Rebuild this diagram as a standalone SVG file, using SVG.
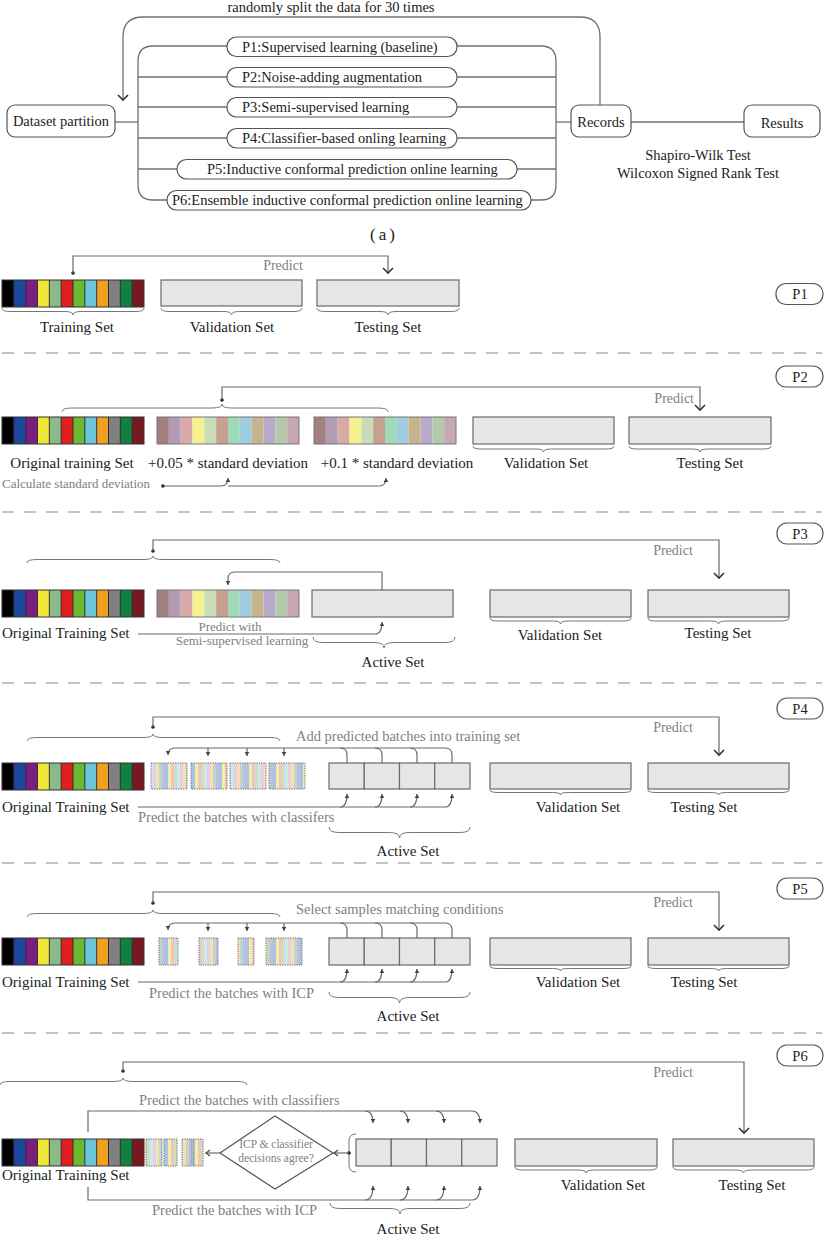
<svg xmlns="http://www.w3.org/2000/svg" xmlns:xlink="http://www.w3.org/1999/xlink" width="831" height="1239" viewBox="0 0 831 1239">
<style>
text{font-family:"Liberation Serif","Times New Roman",serif;fill:#222}
.m{font-size:15px}
.s{font-size:14.5px}
.g{fill:#808080;font-size:14.5px}
.gp{fill:#808080;font-size:14px}
.gs{fill:#808080;font-size:13px}
.c{text-anchor:middle}
.e{text-anchor:end}
.ln{fill:none;stroke:#707070;stroke-width:1.3}
.cn{fill:none;stroke:#6a6a6a;stroke-width:1.2}
.br{fill:none;stroke:#777;stroke-width:1}
.box{fill:#e6e6e6;stroke:#6a6a6a;stroke-width:1.2}
.pill{fill:#fff;stroke:#555;stroke-width:1.2}
.dash{stroke:#8a8a8a;stroke-width:1.2;stroke-dasharray:12 10}
.bat{fill:url(#bp);stroke:#666;stroke-width:1;stroke-dasharray:1.2 1.2}
.dot{fill:#222}
</style>
<defs>
<marker id="vee" viewBox="-7 -7 14 14" markerWidth="14" markerHeight="14" refX="0" refY="0" orient="auto" markerUnits="userSpaceOnUse" overflow="visible"><path d="M-5,-5 L0,0 L-5,5" fill="none" stroke="#333" stroke-width="1.6"/></marker>
<marker id="sm" viewBox="-5 -5 10 10" markerWidth="10" markerHeight="10" refX="0" refY="0" orient="auto" markerUnits="userSpaceOnUse" overflow="visible"><path d="M-4,-2.3 L0,0 L-4,2.3 z" fill="#444"/></marker>
<marker id="lt" viewBox="-5 -5 10 10" markerWidth="10" markerHeight="10" refX="0" refY="0" orient="auto" markerUnits="userSpaceOnUse" overflow="visible"><path d="M-4,-3 L0,0 L-4,3" fill="none" stroke="#444" stroke-width="1.1"/></marker>
<pattern id="bp" width="27" height="10" patternUnits="userSpaceOnUse">
<rect x="0" y="0" width="3" height="10" fill="#c4bce0"/><rect x="3" y="0" width="3" height="10" fill="#a9c2e8"/><rect x="6" y="0" width="3" height="10" fill="#f2efa2"/><rect x="9" y="0" width="3" height="10" fill="#f3c3c3"/><rect x="12" y="0" width="3" height="10" fill="#c9e3c0"/><rect x="15" y="0" width="3" height="10" fill="#cde8f2"/><rect x="18" y="0" width="3" height="10" fill="#e6cfe0"/><rect x="21" y="0" width="3" height="10" fill="#f7dfb0"/><rect x="24" y="0" width="3" height="10" fill="#b9d9c9"/>
</pattern>
<g id="orig">
<rect x="0" y="0" width="11.83" height="27" fill="#000"/>
<rect x="11.83" y="0" width="11.83" height="27" fill="#1a48a0"/>
<rect x="23.67" y="0" width="11.83" height="27" fill="#7a1e80"/>
<rect x="35.5" y="0" width="11.83" height="27" fill="#f0e838"/>
<rect x="47.33" y="0" width="11.83" height="27" fill="#8cb88a"/>
<rect x="59.17" y="0" width="11.83" height="27" fill="#e02020"/>
<rect x="71" y="0" width="11.83" height="27" fill="#6cb830"/>
<rect x="82.83" y="0" width="11.83" height="27" fill="#6ac6d8"/>
<rect x="94.67" y="0" width="11.83" height="27" fill="#f0a020"/>
<rect x="106.5" y="0" width="11.83" height="27" fill="#808080"/>
<rect x="118.33" y="0" width="11.83" height="27" fill="#128040"/>
<rect x="130.17" y="0" width="11.83" height="27" fill="#781820"/>
<path d="M11.83,0V27M23.67,0V27M35.5,0V27M47.33,0V27M59.17,0V27M71,0V27M82.83,0V27M94.67,0V27M106.5,0V27M118.33,0V27M130.17,0V27" stroke="#222" stroke-width="0.9"/>
<rect x="0" y="0" width="142" height="27" fill="none" stroke="#333" stroke-width="1"/>
</g>
<g id="pale">
<rect x="0" y="0" width="11.83" height="27" fill="#a08080"/>
<rect x="11.83" y="0" width="11.83" height="27" fill="#b39ab5"/>
<rect x="23.67" y="0" width="11.83" height="27" fill="#d8aaa8"/>
<rect x="35.5" y="0" width="11.83" height="27" fill="#f5f090"/>
<rect x="47.33" y="0" width="11.83" height="27" fill="#c8dcb8"/>
<rect x="59.17" y="0" width="11.83" height="27" fill="#c8a090"/>
<rect x="71" y="0" width="11.83" height="27" fill="#a0d8b8"/>
<rect x="82.83" y="0" width="11.83" height="27" fill="#a0cce0"/>
<rect x="94.67" y="0" width="11.83" height="27" fill="#c8b48c"/>
<rect x="106.5" y="0" width="11.83" height="27" fill="#b8aac8"/>
<rect x="118.33" y="0" width="11.83" height="27" fill="#b4c8ac"/>
<rect x="130.17" y="0" width="11.83" height="27" fill="#c8a8b0"/>
<rect x="0" y="0" width="142" height="27" fill="none" stroke="#777" stroke-width="1"/>
</g>
</defs>
<rect x="0" y="0" width="831" height="1239" fill="#fff"/>

<!-- ===== (a) overview ===== -->
<g id="connectors-a">
<path class="ln" d="M600,105 V37 Q600,17 580,17 H143 Q123,17 123,37 V100" marker-end="url(#vee)"/>
<path class="ln" d="M115,122 H138"/>
<path class="ln" d="M227,46 H153 Q138,46 138,61 V185 Q138,200 153,200 H167"/>
<path class="ln" d="M138,77 H227 M138,107 H227 M138,138 H227 M138,169 H177"/>
<path class="ln" d="M457,46 H541 Q556,46 556,61 V185 Q556,200 541,200 H531"/>
<path class="ln" d="M457,77 H556 M457,107 H556 M457,138 H556 M517,169 H556"/>
<path class="ln" d="M556,122 H571"/>
<path class="ln" d="M631,122 H744"/>
</g>
<text class="s c" x="331" y="12">randomly split the data for 30 times</text>
<g id="dataset-partition"><rect x="7" y="105" width="108" height="32" rx="8" class="pill"/><text class="s c" x="61" y="126">Dataset partition</text></g>
<g id="p1-pill"><rect x="227" y="37" width="230" height="19.5" rx="9.5" class="pill"/><text class="s" x="242" y="51.5">P1:Supervised learning (baseline)</text></g>
<g id="p2-pill"><rect x="227" y="67.5" width="230" height="19.5" rx="9.5" class="pill"/><text class="s" x="242" y="82">P2:Noise-adding augmentation</text></g>
<g id="p3-pill"><rect x="227" y="97.5" width="230" height="19.5" rx="9.5" class="pill"/><text class="s" x="242" y="112">P3:Semi-supervised learning</text></g>
<g id="p4-pill"><rect x="227" y="128.5" width="230" height="19.5" rx="9.5" class="pill"/><text class="s" x="242" y="143">P4:Classifier-based onling learning</text></g>
<g id="p5-pill"><rect x="177" y="159.5" width="340" height="19.5" rx="9.5" class="pill"/><text class="s" x="207" y="174">P5:Inductive conformal prediction online learning</text></g>
<g id="p6-pill"><rect x="167" y="190.5" width="364" height="19.5" rx="9.5" class="pill"/><text class="s" x="172" y="205">P6:Ensemble inductive conformal prediction online learning</text></g>
<g id="records"><rect x="571" y="105" width="60" height="32" rx="8" class="pill"/><text class="s c" x="601" y="127">Records</text></g>
<g id="results"><rect x="744" y="105" width="76" height="32" rx="8" class="pill"/><text class="s c" x="782" y="128">Results</text></g>
<text class="s c" x="698" y="160">Shapiro-Wilk Test</text>
<text class="s c" x="698" y="178">Wilcoxon Signed Rank Test</text>
<text class="c" x="384" y="240" font-size="17" letter-spacing="3">(a)</text>

<!-- separators -->
<g id="separators">
<line class="dash" x1="2" y1="353" x2="822" y2="353"/>
<line class="dash" x1="2" y1="512" x2="822" y2="512"/>
<line class="dash" x1="2" y1="683" x2="822" y2="683"/>
<line class="dash" x1="2" y1="863" x2="822" y2="863"/>
<line class="dash" x1="2" y1="1033" x2="822" y2="1033"/>
</g>

<!-- ===== P1 ===== -->
<g id="p1-row">
<use href="#orig" xlink:href="#orig" x="2" y="280"/>
<rect class="box" x="161" y="280" width="141" height="26"/>
<rect class="box" x="317" y="280" width="142" height="26"/>
<path class="br" d="M2,308 Q2,311.5 10,311.5 H65 Q73,311.5 73,315 Q73,311.5 81,311.5 H136 Q144,311.5 144,308"/>
<path class="br" d="M161,308 Q161,311.5 169,311.5 H223.5 Q231.5,311.5 231.5,315 Q231.5,311.5 239.5,311.5 H294 Q302,311.5 302,308"/>
<path class="br" d="M317,308 Q317,311.5 325,311.5 H380 Q388,311.5 388,315 Q388,311.5 396,311.5 H451 Q459,311.5 459,308"/>
<text class="m c" x="77" y="332">Training Set</text>
<text class="m c" x="232" y="332">Validation Set</text>
<text class="m c" x="388" y="332">Testing Set</text>
<text class="gp c" x="283" y="270">Predict</text>
</g>
<g id="p1-tag"><rect x="776" y="283.5" width="47" height="21" rx="10" class="pill"/><text class="s c" x="800" y="299">P1</text></g>

<!-- ===== P2 ===== -->
<g id="p2-row">
<use href="#orig" xlink:href="#orig" x="2" y="417"/>
<use href="#pale" xlink:href="#pale" x="157" y="417"/>
<use href="#pale" xlink:href="#pale" x="314" y="417"/>
<rect class="box" x="473" y="417" width="141" height="27"/>
<rect class="box" x="629" y="417" width="142" height="27"/>
<path class="br" d="M62,412 Q62,408 72,408 H212 Q222,408 222,404 Q222,408 232,408 H378 Q388,408 388,412"/>
<path class="br" d="M473,446 Q473,449 481,449 H535.5 Q543.5,449 543.5,452 Q543.5,449 551.5,449 H606 Q614,449 614,446"/>
<path class="br" d="M629,446 Q629,449 637,449 H692 Q700,449 700,452 Q700,449 708,449 H763 Q771,449 771,446"/>
<text class="m c" x="72" y="468">Original training Set</text>
<text class="m c" x="228" y="468">+0.05 * standard deviation</text>
<text class="m c" x="397" y="468">+0.1 * standard deviation</text>
<text class="m c" x="546" y="468">Validation Set</text>
<text class="m c" x="710" y="468">Testing Set</text>
<text class="gs" x="2" y="488">Calculate standard deviation</text>
<text class="gp e" x="694" y="403">Predict</text>
</g>
<g id="p2-tag"><rect x="776" y="366" width="47" height="21" rx="10" class="pill"/><text class="s c" x="800" y="381.5">P2</text></g>

<!-- ===== P3 ===== -->
<g id="p3-row">
<use href="#orig" xlink:href="#orig" x="2" y="590"/>
<use href="#pale" xlink:href="#pale" x="157" y="590"/>
<rect class="box" x="312" y="590" width="141" height="27"/>
<rect class="box" x="490" y="590" width="141" height="27"/>
<rect class="box" x="648" y="590" width="141" height="27"/>
<path class="br" d="M27,563 Q27,559.5 37,559.5 H143 Q153,559.5 153,556 Q153,559.5 163,559.5 H270 Q280,559.5 280,563"/>
<path class="br" d="M490,618 Q490,621 498,621 H552.5 Q560.5,621 560.5,624 Q560.5,621 568.5,621 H623 Q631,621 631,618"/>
<path class="br" d="M648,618 Q648,621 656,621 H710.5 Q718.5,621 718.5,624 Q718.5,621 726.5,621 H781 Q789,621 789,618"/>
<path class="br" d="M313,637 Q313,642.5 323,642.5 H374 Q384,642.5 384,648 Q384,642.5 394,642.5 H445 Q455,642.5 455,637"/>
<text class="m" x="2" y="638">Original Training Set</text>
<text class="gs c" x="230" y="631">Predict with</text>
<text class="gs c" x="242" y="645">Semi-supervised learning</text>
<text class="m c" x="560" y="640">Validation Set</text>
<text class="m c" x="718" y="638">Testing Set</text>
<text class="m c" x="393" y="667">Active Set</text>
<text class="gp c" x="673" y="555">Predict</text>
</g>
<g id="p3-tag"><rect x="777" y="523" width="46" height="21" rx="10" class="pill"/><text class="s c" x="800" y="538.5">P3</text></g>

<!-- ===== P4 ===== -->
<g id="p4-row">
<use href="#orig" xlink:href="#orig" x="2" y="763"/>
<rect class="bat" x="151" y="763" width="36" height="26"/>
<rect class="bat" x="191" y="763" width="36" height="26"/>
<rect class="bat" x="230" y="763" width="36" height="26"/>
<rect class="bat" x="269" y="763" width="36" height="26"/>
<rect class="box" x="329" y="763" width="35.25" height="26"/>
<rect class="box" x="364.25" y="763" width="35.25" height="26"/>
<rect class="box" x="399.5" y="763" width="35.25" height="26"/>
<rect class="box" x="434.75" y="763" width="35.25" height="26"/>
<rect class="box" x="490" y="763" width="141" height="26"/>
<rect class="box" x="648" y="763" width="141" height="26"/>
<path class="br" d="M27,741 Q27,737.5 37,737.5 H143 Q153,737.5 153,734 Q153,737.5 163,737.5 H270 Q280,737.5 280,741"/>
<path class="br" d="M490,790 Q490,792.5 498,792.5 H552.5 Q560.5,792.5 560.5,795 Q560.5,792.5 568.5,792.5 H623 Q631,792.5 631,790"/>
<path class="br" d="M648,790 Q648,792.5 656,792.5 H710.5 Q718.5,792.5 718.5,795 Q718.5,792.5 726.5,792.5 H781 Q789,792.5 789,790"/>
<path class="br" d="M329,827 Q329,832.5 339,832.5 H389.5 Q399.5,832.5 399.5,838 Q399.5,832.5 409.5,832.5 H460 Q470,832.5 470,827"/>
<text class="g" x="296" y="741">Add predicted batches into training set</text>
<text class="m" x="2" y="812">Original Training Set</text>
<text class="g" x="138" y="822">Predict the batches with classifers</text>
<text class="m c" x="578" y="812">Validation Set</text>
<text class="m c" x="704" y="812">Testing Set</text>
<text class="m c" x="408" y="856">Active Set</text>
<text class="gp c" x="673" y="732">Predict</text>
</g>
<g id="p4-tag"><rect x="777" y="698" width="46" height="21" rx="10" class="pill"/><text class="s c" x="800" y="713.5">P4</text></g>

<!-- ===== P5 ===== -->
<g id="p5-row">
<use href="#orig" xlink:href="#orig" x="2" y="938"/>
<rect class="bat" x="159" y="938" width="19" height="27"/>
<rect class="bat" x="199" y="938" width="19" height="27"/>
<rect class="bat" x="238" y="938" width="16" height="27"/>
<rect class="bat" x="266" y="938" width="36" height="27"/>
<rect class="box" x="329" y="938" width="35.25" height="27"/>
<rect class="box" x="364.25" y="938" width="35.25" height="27"/>
<rect class="box" x="399.5" y="938" width="35.25" height="27"/>
<rect class="box" x="434.75" y="938" width="35.25" height="27"/>
<rect class="box" x="490" y="938" width="141" height="27"/>
<rect class="box" x="648" y="938" width="141" height="27"/>
<path class="br" d="M27,917 Q27,913.5 37,913.5 H143 Q153,913.5 153,910 Q153,913.5 163,913.5 H270 Q280,913.5 280,917"/>
<path class="br" d="M490,966 Q490,968.5 498,968.5 H552.5 Q560.5,968.5 560.5,971 Q560.5,968.5 568.5,968.5 H623 Q631,968.5 631,966"/>
<path class="br" d="M648,966 Q648,968.5 656,968.5 H710.5 Q718.5,968.5 718.5,971 Q718.5,968.5 726.5,968.5 H781 Q789,968.5 789,966"/>
<path class="br" d="M329,992 Q329,997.5 339,997.5 H389.5 Q399.5,997.5 399.5,1003 Q399.5,997.5 409.5,997.5 H460 Q470,997.5 470,992"/>
<text class="g" x="296" y="914">Select samples matching conditions</text>
<text class="m" x="2" y="987">Original Training Set</text>
<text class="g" x="149" y="998">Predict the batches with ICP</text>
<text class="m c" x="578" y="987">Validation Set</text>
<text class="m c" x="704" y="987">Testing Set</text>
<text class="m c" x="408" y="1021">Active Set</text>
<text class="gp c" x="673" y="907">Predict</text>
</g>
<g id="p5-tag"><rect x="777" y="878" width="46" height="21" rx="10" class="pill"/><text class="s c" x="800" y="893.5">P5</text></g>

<!-- ===== P6 ===== -->
<g id="p6-row">
<use href="#orig" xlink:href="#orig" x="2" y="1139"/>
<rect class="bat" x="146" y="1139" width="16" height="27"/>
<rect class="bat" x="164" y="1139" width="13" height="27"/>
<rect class="bat" x="182" y="1139" width="10" height="27"/>
<rect class="bat" x="193" y="1139" width="10" height="27"/>
<rect class="box" x="356" y="1139" width="35.25" height="27"/>
<rect class="box" x="391.25" y="1139" width="35.25" height="27"/>
<rect class="box" x="426.5" y="1139" width="35.25" height="27"/>
<rect class="box" x="461.75" y="1139" width="35.25" height="27"/>
<rect class="box" x="515" y="1139" width="142" height="27"/>
<rect class="box" x="673" y="1139" width="141" height="27"/>
<path class="br" d="M0,1085 Q0,1081.5 10,1081.5 H113 Q123,1081.5 123,1078 Q123,1081.5 133,1081.5 H237 Q247,1081.5 247,1085"/>
<path class="br" d="M515,1167 Q515,1170 523,1170 H578 Q586,1170 586,1173 Q586,1170 594,1170 H649 Q657,1170 657,1167"/>
<path class="br" d="M673,1167 Q673,1170 681,1170 H735.5 Q743.5,1170 743.5,1173 Q743.5,1170 751.5,1170 H806 Q814,1170 814,1167"/>
<path class="br" d="M330,1203 Q330,1208.5 340,1208.5 H390 Q400,1208.5 400,1214 Q400,1208.5 410,1208.5 H460 Q470,1208.5 470,1203"/>
<path class="br" d="M356,1134 Q349,1134 349,1141 V1165 Q349,1172 356,1172"/>
<text class="g" x="139" y="1105">Predict the batches with classifiers</text>
<text class="m" x="2" y="1180">Original Training Set</text>
<text class="g" x="152" y="1215">Predict the batches with ICP</text>
<text class="m c" x="603" y="1190">Validation Set</text>
<text class="m c" x="752" y="1190">Testing Set</text>
<text class="m c" x="408" y="1234">Active Set</text>
<text class="gp c" x="673" y="1077">Predict</text>
</g>
<g id="p6-decision"><polygon points="220,1153 275,1116 333,1153 275,1189" fill="#fff" stroke="#555" stroke-width="1.2"/>
<text class="c" x="276" y="1148" font-size="11.5" fill="#808080" style="fill:#808080">ICP &amp; classifier</text>
<text class="c" x="276" y="1162" font-size="11.5" style="fill:#808080">decisions agree?</text></g>
<g id="p6-tag"><rect x="777" y="1045" width="46" height="21" rx="10" class="pill"/><text class="s c" x="800" y="1060.5">P6</text></g>

<!-- ===== connectors for rows ===== -->
<g id="connectors">
<!-- P1 -->
<circle class="dot" cx="73" cy="273" r="1.8"/>
<path class="cn" d="M73,273 V256 H388 V273" marker-end="url(#vee)"/>
<!-- P2 -->
<circle class="dot" cx="222" cy="400" r="1.8"/>
<path class="cn" d="M222,400 V387 H700 V410" marker-end="url(#vee)"/>
<circle class="dot" cx="163" cy="486" r="1.8"/>
<path class="cn" d="M163,486 H221 Q228,486 228,478" marker-end="url(#sm)"/>
<path class="cn" d="M228,486 H379 Q386,486 386,478" marker-end="url(#sm)"/>
<!-- P3 -->
<circle class="dot" cx="153" cy="551" r="1.8"/>
<path class="cn" d="M153,551 V540 H719 V578" marker-end="url(#vee)"/>
<path class="cn" d="M382,590 V572 H235 Q228,572 228,579 V585" marker-end="url(#sm)"/>
<path class="cn" d="M138,634 H375 Q382,634 382,622" marker-end="url(#sm)"/>
<!-- P4 -->
<circle class="dot" cx="153" cy="727" r="1.8"/>
<path class="cn" d="M153,727 V717 H719 V755" marker-end="url(#vee)"/>
<path class="cn" d="M452,763 V755 Q452,748 445,748 H175 Q168,748 168,755" marker-end="url(#sm)"/>
<path class="cn" d="M347,763 V755 Q347,748 340,748 M382,763 V755 Q382,748 375,748 M417,763 V755 Q417,748 410,748"/>
<path class="cn" d="M208,748 V756" marker-end="url(#sm)"/>
<path class="cn" d="M247,748 V756" marker-end="url(#sm)"/>
<path class="cn" d="M284,748 V756" marker-end="url(#sm)"/>
<path class="cn" d="M138,807 H445 Q452,807 452,794" marker-end="url(#sm)"/>
<path class="cn" d="M340,807 Q347,807 347,794" marker-end="url(#sm)"/>
<path class="cn" d="M375,807 Q382,807 382,794" marker-end="url(#sm)"/>
<path class="cn" d="M410,807 Q417,807 417,794" marker-end="url(#sm)"/>
<!-- P5 -->
<circle class="dot" cx="153" cy="903" r="1.8"/>
<path class="cn" d="M153,903 V892 H719 V930" marker-end="url(#vee)"/>
<path class="cn" d="M452,938 V930 Q452,923 445,923 H175 Q168,923 168,930" marker-end="url(#sm)"/>
<path class="cn" d="M347,938 V930 Q347,923 340,923 M382,938 V930 Q382,923 375,923 M417,938 V930 Q417,923 410,923"/>
<path class="cn" d="M208,923 V931" marker-end="url(#sm)"/>
<path class="cn" d="M247,923 V931" marker-end="url(#sm)"/>
<path class="cn" d="M284,923 V931" marker-end="url(#sm)"/>
<path class="cn" d="M138,982 H445 Q452,982 452,969" marker-end="url(#sm)"/>
<path class="cn" d="M340,982 Q347,982 347,969" marker-end="url(#sm)"/>
<path class="cn" d="M375,982 Q382,982 382,969" marker-end="url(#sm)"/>
<path class="cn" d="M410,982 Q417,982 417,969" marker-end="url(#sm)"/>
<!-- P6 -->
<circle class="dot" cx="123" cy="1071" r="1.8"/>
<path class="cn" d="M123,1071 V1062 H744 V1133" marker-end="url(#vee)"/>
<path class="cn" d="M88,1132 V1111 H472 Q480,1111 480,1123" marker-end="url(#sm)"/>
<path class="cn" d="M365,1111 Q373,1111 373,1123" marker-end="url(#sm)"/>
<path class="cn" d="M400,1111 Q408,1111 408,1123" marker-end="url(#sm)"/>
<path class="cn" d="M436,1111 Q444,1111 444,1123" marker-end="url(#sm)"/>
<path class="cn" d="M88,1187 V1200 H472 Q480,1200 480,1186" marker-end="url(#sm)"/>
<path class="cn" d="M365,1200 Q373,1200 373,1186" marker-end="url(#sm)"/>
<path class="cn" d="M400,1200 Q408,1200 408,1186" marker-end="url(#sm)"/>
<path class="cn" d="M436,1200 Q444,1200 444,1186" marker-end="url(#sm)"/>
<path class="cn" d="M220,1153 H206" marker-end="url(#lt)"/>
<circle class="dot" cx="349" cy="1153" r="1.8"/>
<path class="cn" d="M349,1153 H334" marker-end="url(#lt)"/>
</g>
</svg>
